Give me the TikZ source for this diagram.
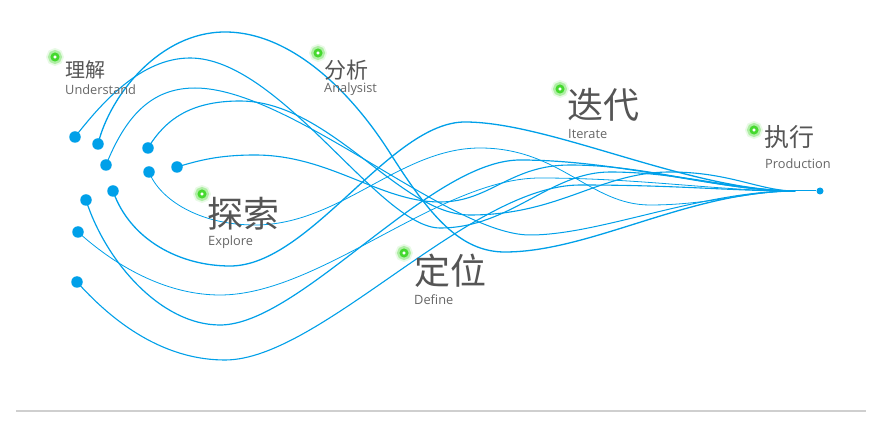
\documentclass[tikz,border=0pt]{standalone}
\usepackage{fontspec}
\setmainfont{Open Sans}
\newfontfamily\cjk{Noto Sans CJK SC}
\definecolor{flow}{HTML}{00A0E9}
\definecolor{glow}{HTML}{45D92E}
\definecolor{ttl}{HTML}{555555}
\definecolor{sub}{HTML}{666666}
\definecolor{rulecol}{HTML}{CFCFCF}
\begin{document}
\begin{tikzpicture}[x=1pt,y=-1pt,
  flowline/.style={draw=flow,line width=#1},
  flowline/.default=1.1pt,
  dotnode/.style={circle,fill=flow,inner sep=0,minimum size=11.5pt},
  enddot/.style={circle,fill=flow,inner sep=0,minimum size=7pt},
  greenmark/.style={circle,inner sep=0,minimum size=6.2pt,fill=white,draw=glow,line width=2.7pt,
    preaction={draw=glow,line width=11pt,draw opacity=0.12},
    preaction={draw=glow,line width=7.5pt,draw opacity=0.35}},
  ttlcn/.style={anchor=base west,inner sep=0,text=ttl,font=\cjk\fontsize{#1}{#1}\selectfont},
  subtx/.style={anchor=base west,inner sep=0,text=sub,font=\fontsize{12.8}{13}\selectfont},
  ]
\useasboundingbox (0,0) rectangle (870,443);
\fill[white] (0,0) rectangle (870,443);

% bottom rule
\coordinate (r1) at (16,411);
\coordinate (r2) at (866,411);
\draw[rulecol,line width=1.2pt] (r1) -- (r2);

% start dots
\node[dotnode] (d1) at (75,137) {};
\node[dotnode] (d2) at (98,144) {};
\node[dotnode] (d3) at (106,165) {};
\node[dotnode] (d4) at (148,148) {};
\node[dotnode] (d5) at (149,172) {};
\node[dotnode] (d6) at (177,167) {};
\node[dotnode] (d7) at (113,191) {};
\node[dotnode] (d8) at (86,200) {};
\node[dotnode] (d9) at (78,232) {};
\node[dotnode] (d10) at (77,282) {};

\coordinate (E) at (795,191);
\node[enddot] (pe) at (820,191) {};
\draw[flowline=1pt] (E) -- (pe);

% curves
\draw[flowline=1.1pt] (d1.center) .. controls (100,105) and (140,58) .. (190,58)
  .. controls (280,58) and (380,228) .. (440,228)
  .. controls (510,228) and (550,172) .. (610,172)
  .. controls (680,172) and (740,191) .. (E);
\draw[flowline=1.3pt] (d2.center) .. controls (110,95) and (160,32) .. (225,32)
  .. controls (290,32) and (350,90) .. (390,153)
  .. controls (430,216) and (460,252) .. (505,252)
  .. controls (590,252) and (690,191) .. (E);
\draw[flowline=1.0pt] (d3.center) .. controls (125,118) and (150,88) .. (195,88)
  .. controls (290,88) and (450,235) .. (530,235)
  .. controls (600,235) and (700,191) .. (E);
\draw[flowline=1.1pt] (d4.center) .. controls (165,120) and (190,101) .. (240,101)
  .. controls (330,101) and (400,215) .. (470,215)
  .. controls (560,215) and (600,172) .. (670,172)
  .. controls (730,172) and (760,191) .. (E);
\draw[flowline=0.8pt] (d5.center) .. controls (160,200) and (200,225) .. (255,225)
  .. controls (340,225) and (400,148) .. (480,148)
  .. controls (560,148) and (590,205) .. (650,205)
  .. controls (710,205) and (750,191) .. (E);
\draw[flowline=1.1pt] (d6.center) .. controls (200,160) and (220,155) .. (255,155)
  .. controls (330,155) and (380,202) .. (440,202)
  .. controls (490,202) and (510,165) .. (570,165)
  .. controls (650,165) and (720,191) .. (E);
\draw[flowline=1.3pt] (d7.center) .. controls (130,240) and (180,266) .. (230,266)
  .. controls (310,266) and (390,122) .. (465,122)
  .. controls (550,122) and (690,191) .. (E);
\draw[flowline=1.2pt] (d8.center) .. controls (105,260) and (160,325) .. (220,325)
  .. controls (300,325) and (430,160) .. (520,160)
  .. controls (620,160) and (720,191) .. (E);
\draw[flowline=0.8pt] (d9.center) .. controls (120,270) and (170,295) .. (220,295)
  .. controls (320,295) and (440,178) .. (540,178)
  .. controls (640,178) and (720,191) .. (E);
\draw[flowline=1.1pt] (d10.center) .. controls (120,330) and (170,360) .. (225,360)
  .. controls (320,360) and (470,185) .. (580,185)
  .. controls (680,185) and (730,191) .. (E);

% green markers
\node[greenmark] (g1) at (55,57) {};
\node[greenmark] (g2) at (318,53) {};
\node[greenmark] (g3) at (560,89) {};
\node[greenmark] (g4) at (754,130) {};
\node[greenmark] (g5) at (202,194) {};
\node[greenmark] (g6) at (404,253) {};

% labels
\node[ttlcn=20] (t1) at (65,78) {理解};
\node[subtx] (s1) at (65,95) {Understand};
\node[ttlcn=22] (t2) at (324,78.5) {分析};
\node[subtx] (s2) at (324,93) {Analysist};
\node[ttlcn=36] (t3) at (567,119) {迭代};
\node[subtx] (s3) at (568,139) {Iterate};
\node[ttlcn=25] (t4) at (764,146.5) {执行};
\node[subtx] (s4) at (765,169) {Production};
\node[ttlcn=36] (t5) at (207,228) {探索};
\node[subtx] (s5) at (208,246) {Explore};
\node[ttlcn=36] (t6) at (414,285) {定位};
\node[subtx] (s6) at (414,305) {Define};
\end{tikzpicture}
\end{document}
